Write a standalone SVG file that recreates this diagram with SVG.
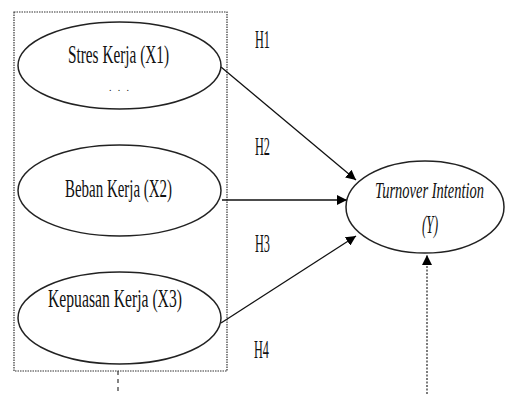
<svg xmlns="http://www.w3.org/2000/svg" width="505" height="394" viewBox="0 0 505 394">
<defs>
<style>
.node ellipse{fill:#fff;stroke:#222;stroke-width:1.5}
.lbl{font-family:"Liberation Serif","Times New Roman",serif;font-size:26px;fill:#111}
.it{font-style:italic}
.conn line{stroke:#111;stroke-width:1.3}
.dot{stroke:#333;stroke-width:1.2;stroke-dasharray:1.5 1;fill:none}
</style>
<marker id="ah" viewBox="0 0 10 10" refX="10" refY="5" markerWidth="10" markerHeight="10" markerUnits="userSpaceOnUse" orient="auto">
<path d="M0,0 L10,5 L0,10 z" fill="#000"/>
</marker>
</defs>
<rect width="505" height="394" fill="#fff"/>
<g id="box">
<rect x="14" y="12" width="213" height="359" class="dot"/>
<line x1="118" y1="371" x2="118" y2="394" stroke="#333" stroke-width="1.2" stroke-dasharray="4 4"/>
</g>
<g class="conn" id="connectors">
<line x1="221" y1="67" x2="356" y2="180" marker-end="url(#ah)"/>
<line x1="222" y1="200" x2="347" y2="200" marker-end="url(#ah)"/>
<line x1="221" y1="323" x2="356" y2="236" marker-end="url(#ah)"/>
<line x1="427" y1="394" x2="427" y2="255" marker-end="url(#ah)" stroke-dasharray="2 1.5" style="stroke-width:1.1"/>
</g>
<g id="x1" class="node">
<ellipse cx="119.5" cy="65.5" rx="101.5" ry="43.5"/>
<text class="lbl" x="118.5" y="63" text-anchor="middle" textLength="101" lengthAdjust="spacingAndGlyphs">Stres Kerja (X1)</text>
<text class="lbl" x="119" y="91" text-anchor="middle" style="font-size:10px" textLength="20" lengthAdjust="spacing">. . .</text>
</g>
<g id="x2" class="node">
<ellipse cx="119.5" cy="190.5" rx="101.5" ry="45.5"/>
<text class="lbl" x="118.5" y="197" text-anchor="middle" textLength="107" lengthAdjust="spacingAndGlyphs">Beban Kerja (X2)</text>
</g>
<g id="x3" class="node">
<ellipse cx="119.5" cy="318" rx="101.5" ry="46"/>
<text class="lbl" x="115" y="307" text-anchor="middle" textLength="134" lengthAdjust="spacingAndGlyphs">Kepuasan Kerja (X3)</text>
</g>
<g id="y" class="node">
<ellipse cx="425" cy="207" rx="79" ry="46"/>
<text class="lbl it" transform="translate(429.5,198) scale(0.63,1)" x="0" y="0" text-anchor="middle" style="font-size:23px">Turnover Intention</text>
<text class="lbl it" x="430" y="233" text-anchor="middle" textLength="16" lengthAdjust="spacingAndGlyphs">(Y)</text>
</g>
<g id="labels">
<text class="lbl" x="255" y="48" textLength="15" lengthAdjust="spacingAndGlyphs">H1</text>
<text class="lbl" x="255" y="155" textLength="15" lengthAdjust="spacingAndGlyphs">H2</text>
<text class="lbl" x="255" y="252" textLength="15" lengthAdjust="spacingAndGlyphs">H3</text>
<text class="lbl" x="254" y="358" textLength="15" lengthAdjust="spacingAndGlyphs">H4</text>
</g>
</svg>
